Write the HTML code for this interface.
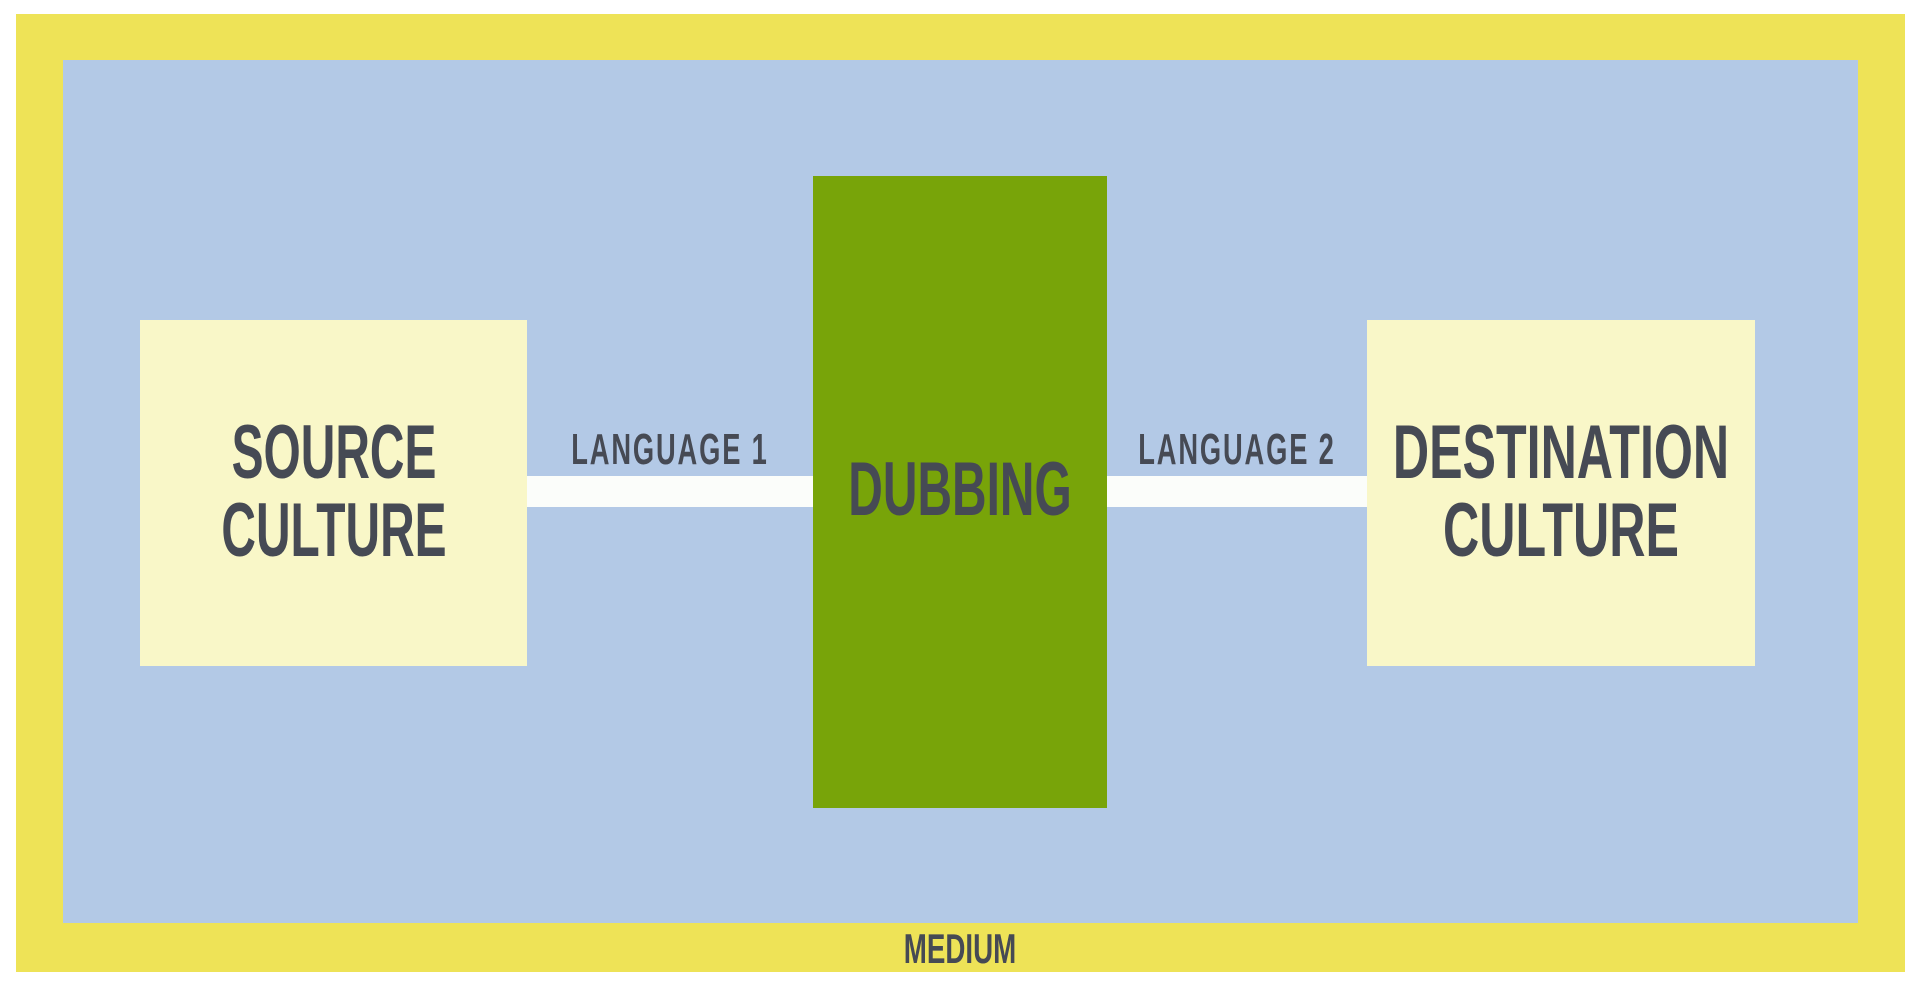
<!DOCTYPE html>
<html><head><meta charset="utf-8"><style>
body{margin:0;width:1928px;height:1002px;background:#fff;position:relative;overflow:hidden;font-family:"Liberation Sans",sans-serif;font-weight:bold;color:#464a54}
div{position:absolute;box-sizing:border-box}
.t{text-align:center;line-height:1;white-space:nowrap;transform:scaleX(0.63);transform-origin:center}
</style></head><body>
<div style="left:16px;top:14px;width:1889px;height:958px;background:#eee357"></div>
<div style="left:63px;top:60px;width:1795px;height:863px;background:#b3c9e6"></div>
<div style="left:526px;top:476px;width:287px;height:31px;background:#fbfdfa"></div>
<div style="left:1107px;top:476px;width:260px;height:31px;background:#fbfdfa"></div>
<div style="left:140px;top:320px;width:387px;height:346px;background:#f9f7c8"></div>
<div style="left:1367px;top:320px;width:388px;height:346px;background:#f9f7c8"></div>
<div style="left:813px;top:176px;width:294px;height:632px;background:#78a409"></div>
<div class="t" style="left:34px;top:414px;width:600px;font-size:76px;line-height:78px">SOURCE<br>CULTURE</div>
<div class="t" style="left:1261px;top:414px;width:600px;font-size:76px;line-height:78px;transform:scaleX(0.66)">DESTINATION<br>CULTURE</div>
<div class="t" style="left:660px;top:452px;width:600px;font-size:76px">DUBBING</div>
<div class="t" style="left:370px;top:428px;width:600px;font-size:44px;letter-spacing:3px;transform:scaleX(0.62)">LANGUAGE 1</div>
<div class="t" style="left:937px;top:428px;width:600px;font-size:44px;letter-spacing:3px;transform:scaleX(0.62)">LANGUAGE 2</div>
<div class="t" style="left:660px;top:928px;width:600px;font-size:42px;transform:scaleX(0.66)">MEDIUM</div>
</body></html>
